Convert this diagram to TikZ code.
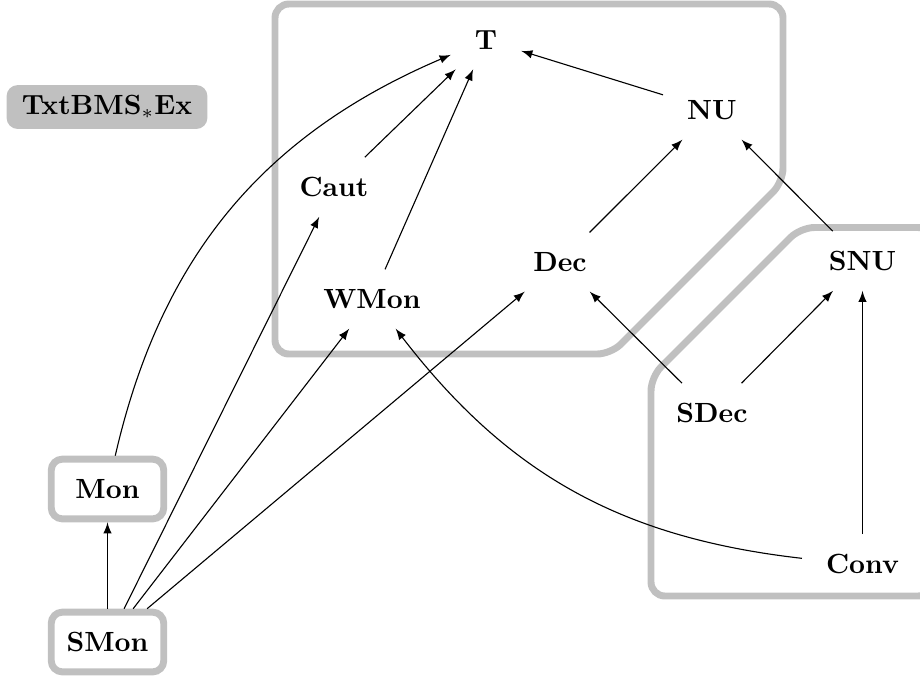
\documentclass[tikz,border=0pt]{standalone}
\usetikzlibrary{arrows}
\definecolor{grayline}{RGB}{192,192,192}
\begin{document}
\begin{tikzpicture}[x=0.36pt,y=-0.36pt,
  lbl/.style={font=\bfseries, inner xsep=8.5pt, inner ysep=7pt},
  boxed/.style={font=\bfseries, draw=grayline, line width=2.5pt, rounded corners=4pt,
    inner xsep=3pt, inner ysep=3pt, minimum width=40.5pt, minimum height=21.5pt},
  region/.style={draw=grayline, line width=2.5pt, rounded corners=5pt},
  tag/.style={fill=grayline, rounded corners=4pt, font=\bfseries, inner xsep=5.5pt, minimum height=15.8pt},
  arr/.style={-latex, line width=0.4pt}]
\useasboundingbox (0,0) rectangle (920,680);
% regions
\draw[region] (275,4) -- (783,4) -- (783,182) -- (611,354) -- (275,354) -- cycle;
\draw[region] (651,596) -- (651,377) -- (800.5,227.5) -- (932,227.5) -- (932,596) -- cycle;
% label
\node[tag] (title) at (107,107) {TxtBMS$_*$Ex};
% nodes
\node[lbl] (T) at (486,40) {T};
\node[lbl] (Caut) at (334,187) {Caut};
\node[lbl] (WMon) at (372,299) {WMon};
\node[lbl] (Dec) at (560,262) {Dec};
\node[lbl] (NU) at (712,110) {NU};
\node[lbl] (SNU) at (862.5,261) {SNU};
\node[lbl] (SDec) at (712,413) {SDec};
\node[lbl] (Conv) at (862.5,564) {Conv};
\node[boxed] (Mon) at (107.5,489) {Mon};
\node[boxed] (SMon) at (107.5,642) {SMon};
% edges
\draw[arr] (Mon) to[bend left=27] (T);
\draw[arr] (Caut) -- (T);
\draw[arr] (WMon) -- (T);
\draw[arr] (NU) -- (T);
\draw[arr] (Dec) -- (NU);
\draw[arr] (SNU) -- (NU);
\draw[arr] (SDec) -- (Dec);
\draw[arr] (SDec) -- (SNU);
\draw[arr] (Conv) -- (SNU);
\draw[arr] (Conv) to[bend left=23] (WMon);
\draw[arr] (SMon) -- (Mon);
\draw[arr] (SMon) -- (Caut);
\draw[arr] (SMon) -- (WMon);
\draw[arr] (SMon) -- (Dec);
\end{tikzpicture}
\end{document}
